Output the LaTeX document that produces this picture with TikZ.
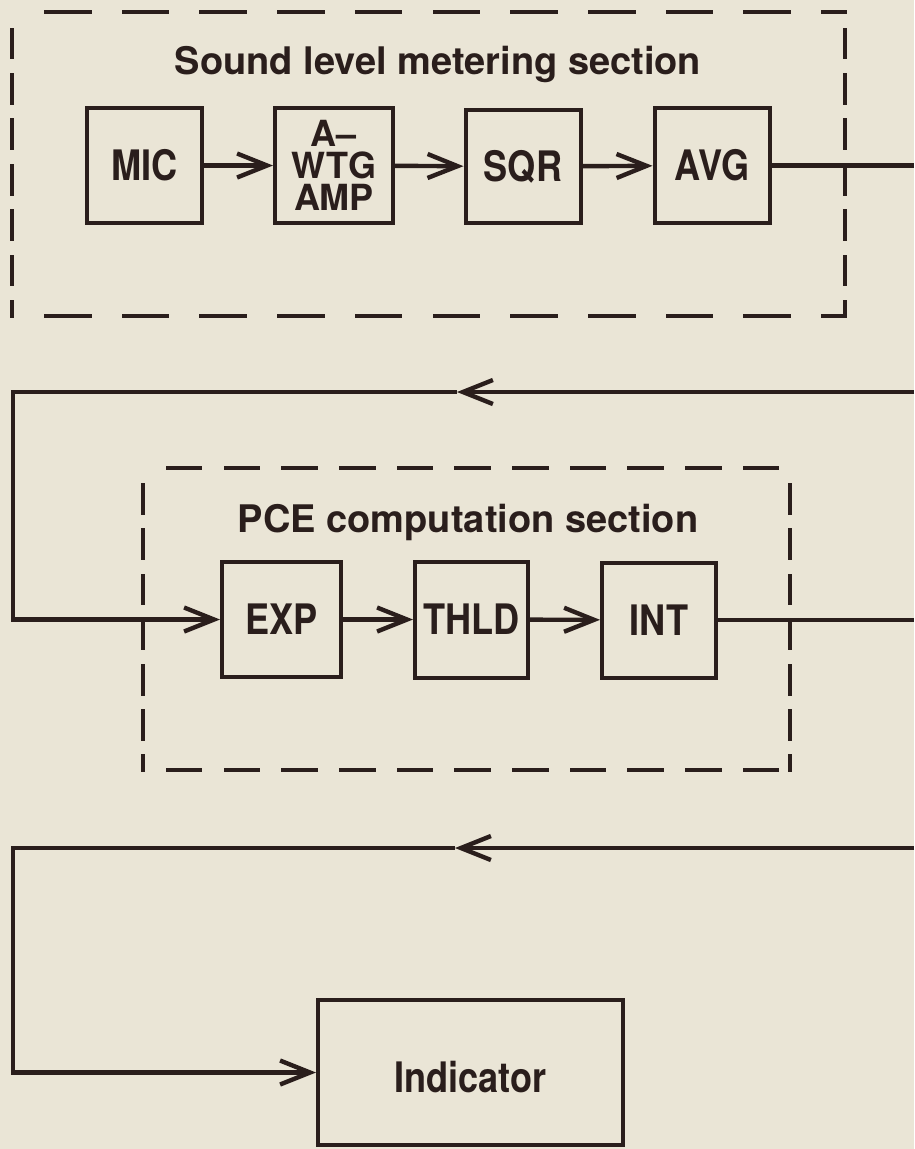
\documentclass[tikz,border=0pt]{standalone}
\usepackage{fontspec}
\setmainfont{TeX Gyre Heros}
\newfontfamily\bxf{TeX Gyre Heros}[FakeStretch=0.86]
\usetikzlibrary{arrows.meta,decorations}
\definecolor{paper}{RGB}{234,229,214}
\definecolor{ink}{RGB}{42,30,28}
\begin{document}
\begin{tikzpicture}[x=1pt,y=-1pt,
  blk/.style={draw=ink,line width=4pt,inner sep=0pt,align=center,text=ink,
    font=\bxf\fontsize{42}{32}\selectfont\bfseries},
  capt/.style={text height=30pt,text depth=0pt},
  ttl/.style={text=ink,inner sep=0pt,anchor=base,font=\fontsize{38}{40}\selectfont\bfseries},
  wire/.style={draw=ink,line width=4.4pt},
  arr/.style={wire,-{Straight Barb[length=30pt,width=24pt]}},
  dH/.style={draw=ink,line width=3.6pt,line cap=rect,dash pattern=on 44pt off 31pt,dash expand off},
  dHs/.style={draw=ink,line width=3.6pt,line cap=rect,dash pattern=on 33pt off 23pt,dash expand off},
  dV/.style={draw=ink,line width=3.6pt,line cap=rect,dash pattern=on 28pt off 15pt,dash expand off}]
\useasboundingbox[fill=paper] (0,0) rectangle (914,1149);
% top section frame
\draw[dH] (12,12) -- (845,12) (12,316) -- (845,316);
\draw[dV] (12,12) -- (12,316) (845,12) -- (845,316);
\node[ttl] (t1) at (438,74) {Sound level metering section};
\node[blk,capt,minimum width=115pt,minimum height=115pt] (mic) at (144.5,165.5) {MIC};
\node[blk,minimum width=118pt,minimum height=115pt,font=\fontsize{36}{32}\selectfont\bfseries] (wtg) at (334,165.5) {A–\\WTG\\AMP};
\node[blk,capt,minimum width=115pt,minimum height=113pt] (sqr) at (523,166.5) {SQR};
\node[blk,capt,minimum width=115pt,minimum height=115pt] (avg) at (712,165.5) {AVG};
\coordinate (out1) at (914,165.5);
\draw[arr] (mic) -- (wtg);
\draw[arr] (wtg) -- (sqr);
\draw[arr] (sqr) -- (avg);
\draw[wire] (avg) -- (out1);
% feedback 1
\coordinate (r1) at (914,392);
\coordinate (m1) at (457,392);
\coordinate (l1) at (13,392);
% PCE section frame
\draw[dHs] (143,468) -- (790,468) (143,770) -- (790,770);
\draw[dV] (143,468) -- (143,770) (790,468) -- (790,770);
\node[ttl] (t2) at (468,532) {PCE computation section};
\node[blk,capt,minimum width=119pt,minimum height=115pt] (exp) at (281.5,619.5) {EXP};
\node[blk,capt,minimum width=113pt,minimum height=116pt] (thld) at (471.5,619.5) {THLD};
\node[blk,capt,minimum width=114pt,minimum height=115pt] (int) at (659,620) {INT};
\coordinate (out2) at (914,620);
\draw[arr] (r1) -- (m1);
\draw[arr] (m1) -- (l1) |- (exp.west);
\draw[arr] (exp) -- (thld);
\draw[arr] (thld) -- (int);
\draw[wire] (int) -- (out2);
% feedback 2
\coordinate (r2) at (914,848);
\coordinate (m2) at (455,848);
\coordinate (l2) at (13,848);
\node[blk,minimum width=305pt,minimum height=145pt,text height=39pt,text depth=0pt] (ind) at (470.5,1072.5) {Indicator};
\draw[arr] (r2) -- (m2);
\draw[arr] (m2) -- (l2) |- (ind.west);
\end{tikzpicture}
\end{document}
